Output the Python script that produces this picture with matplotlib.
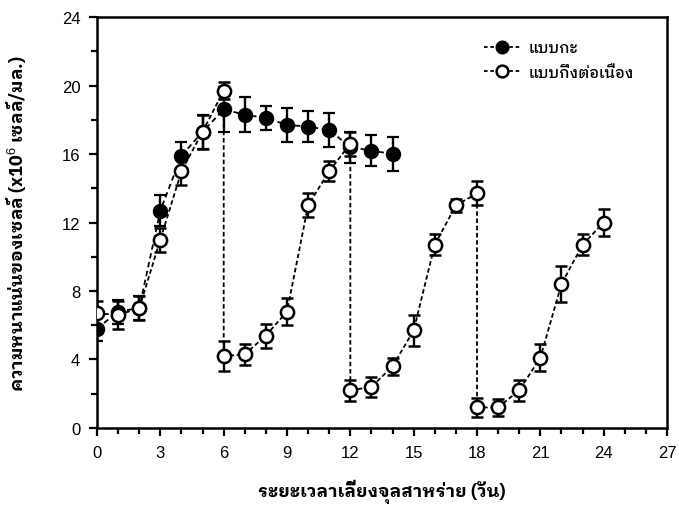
import matplotlib
matplotlib.use("Agg")
import matplotlib.pyplot as plt
from matplotlib.lines import Line2D
from matplotlib.ticker import MultipleLocator

# batch culture
batch_days = [0, 1, 2, 3, 4, 5, 6, 7, 8, 9, 10, 11, 12, 13, 14]
batch_vals = [5.8, 6.8, 7.0, 12.7, 15.9, 17.3, 18.6, 18.3, 18.1, 17.7, 17.6, 17.4, 16.4, 16.2, 16.0]
batch_err = [0.7, 0.7, 0.7, 0.9, 0.8, 1.0, 1.3, 1.0, 0.7, 1.0, 0.9, 1.0, 0.9, 0.9, 1.0]

# semi-continuous culture (harvest at day 6, 12, 18)
semi_days = [0, 1, 2, 3, 4, 5, 6,
             6, 7, 8, 9, 10, 11, 12,
             12, 13, 14, 15, 16, 17, 18,
             18, 19, 20, 21, 22, 23, 24]
semi_vals = [6.7, 6.6, 7.0, 11.0, 15.0, 17.3, 19.7,
             4.2, 4.3, 5.4, 6.8, 13.0, 15.0, 16.6,
             2.2, 2.4, 3.6, 5.7, 10.7, 13.0, 13.7,
             1.2, 1.2, 2.2, 4.1, 8.4, 10.7, 12.0]
semi_err = [0.7, 0.8, 0.7, 0.7, 0.8, 1.0, 0.5,
            0.9, 0.6, 0.7, 0.8, 0.7, 0.6, 0.7,
            0.6, 0.6, 0.5, 0.9, 0.6, 0.4, 0.7,
            0.55, 0.5, 0.6, 0.8, 1.05, 0.6, 0.8]

labels = ['แบบกะ', 'แบบกึ่งต่อเนื่อง']
xlabel = 'ระยะเวลาเลี้ยงจุลสาหร่าย (วัน)'
ylabel = 'ความหนาแน่นของเซลล์ (x10$^6$ เซลล์/มล.)'

plt.rcParams['font.family'] = ['Liberation Sans', 'DejaVu Sans']
plt.rcParams['mathtext.fontset'] = 'custom'
plt.rcParams['mathtext.rm'] = 'Liberation Sans'
plt.rcParams['mathtext.it'] = 'Liberation Sans'
thai_family = ['IBM Plex Sans Thai Looped', 'Liberation Sans', 'DejaVu Sans']

fig = plt.figure(figsize=(6.79, 5.06), dpi=100)
ax = fig.add_axes([0.1429, 0.1522, 0.8394, 0.8122])

ax.errorbar(batch_days, batch_vals, yerr=batch_err, fmt='o', color='black',
            ms=9.5, mfc='black', mec='black', mew=1.6, ls=(0, (3, 2)), lw=1.3,
            elinewidth=1.7, capsize=4.5, capthick=1.7, zorder=3)
ax.errorbar(semi_days, semi_vals, yerr=semi_err, fmt='o', color='black',
            ms=9.5, mfc='white', mec='black', mew=1.8, ls=(0, (2.5, 1.5)), lw=1.3,
            elinewidth=1.7, capsize=4.5, capthick=1.7, zorder=4)

ax.set_xlim(0, 27)
ax.set_ylim(0, 24)
ax.xaxis.set_major_locator(MultipleLocator(3))
ax.xaxis.set_minor_locator(MultipleLocator(1))
ax.yaxis.set_major_locator(MultipleLocator(4))
ax.yaxis.set_minor_locator(MultipleLocator(2))
ax.tick_params(which='major', direction='out', length=6, width=1.6, labelsize=12, pad=6)
ax.tick_params(which='minor', direction='out', length=4, width=1.6)
for s in ax.spines.values():
    s.set_linewidth(1.8)

ax.set_xlabel(xlabel, family=thai_family, fontsize=13, fontweight='bold', labelpad=14)
ax.set_ylabel(ylabel, family=thai_family, fontsize=13, fontweight='bold', labelpad=24)

handles = [
    Line2D([], [], color='black', ls=(0, (2, 1.5)), lw=1.3, marker='o', ms=8.5,
           mfc='black', mec='black', mew=1.6),
    Line2D([], [], color='black', ls=(0, (2, 1.5)), lw=1.3, marker='o', ms=8.5,
           mfc='white', mec='black', mew=1.8),
]
ax.legend(handles, labels, loc='upper left', bbox_to_anchor=(0.655, 0.975), frameon=False,
          prop={'family': thai_family, 'size': 11, 'weight': 'medium'}, handlelength=2.4,
          handletextpad=0.5, labelspacing=0.65)

fig.savefig('out.png', dpi=100)
